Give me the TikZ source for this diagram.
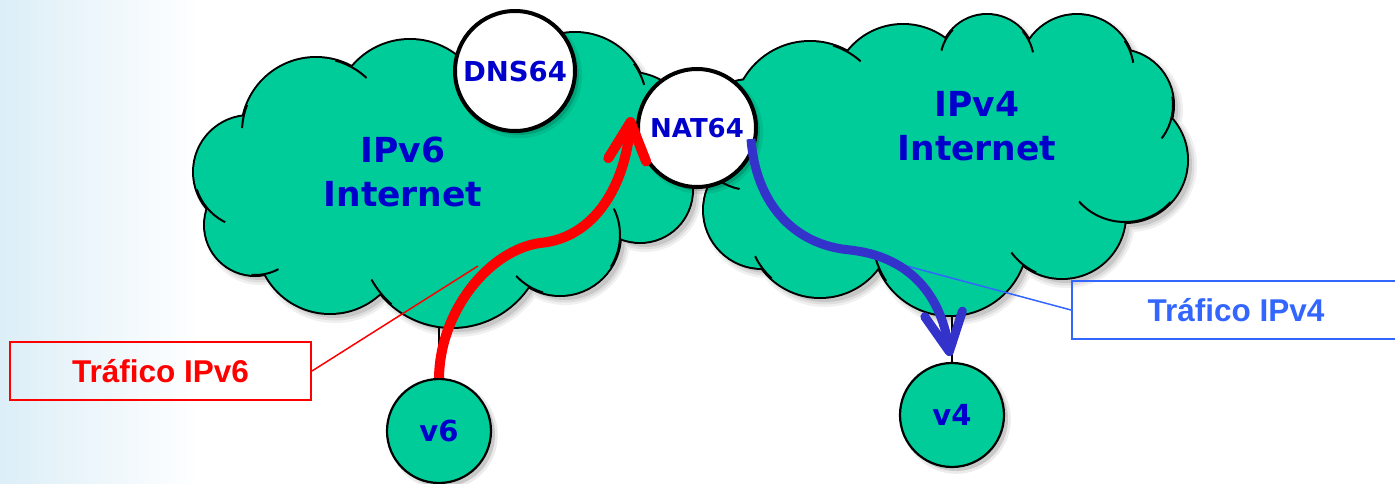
\documentclass[tikz,border=0pt]{standalone}
\usepackage{fontspec}
\setmainfont{DejaVu Sans}
\newfontfamily\calloutfont{Liberation Sans}
\usetikzlibrary{arrows.meta,shadows,calc}

\definecolor{cloudgreen}{RGB}{0,204,153}
\definecolor{labelblue}{RGB}{0,0,204}
\definecolor{flowblue}{RGB}{51,51,204}
\definecolor{calloutblue}{RGB}{51,102,255}
\definecolor{skyedge}{RGB}{220,238,247}

\pgfdeclarelayer{back}
\pgfdeclarelayer{links}
\pgfdeclarelayer{clouds}
\pgfsetlayers{back,links,clouds,main}

% bumps of each cloud: centre x / centre y / radius
\def\leftbumps{250/172/56, 316/132/74, 410/115/75, 575/105/72, 630/135/62, 640/190/52, 560/235/60, 452/235/92, 330/240/73, 255/225/50}
\def\rightbumps{750/135/55, 810/118/76, 903/95/70, 987/62/47, 1077/72/57, 1118/105/55, 1125/160/62, 1062/215/63, 950/238/77, 820/225/72, 762/210/58}

% soft shadow under a cloud, offset down and to the right
\newcommand\cloudshadow[1]{%
  \begin{scope}[shift={(5,5)}]
    \foreach \cx/\cy/\r in #1 {\fill[black!6] (\cx,\cy) circle[radius=\r+5];}
    \foreach \cx/\cy/\r in #1 {\fill[black!13] (\cx,\cy) circle[radius=\r+2.5];}
    \foreach \cx/\cy/\r in #1 {\fill[black!22] (\cx,\cy) circle[radius=\r];}
  \end{scope}}
% cloud body: outlined union of the bumps plus a filled core
\newcommand\cloudbody[5]{%
  \foreach \cx/\cy/\r in #1 {\draw[cloudline] (\cx,\cy) circle[radius=\r];}
  \foreach \cx/\cy/\r in #1 {\fill[cloudgreen] (\cx,\cy) circle[radius=\r];}
  \fill[cloudgreen] (#2,#3) ellipse[x radius=#4, y radius=#5];}
% short inner arc where bump (#1,#2;#3) runs into bump (#4,#5;#6);
% #7 = 90 or -90 picks the outer crossing, #8 = length of the arc
% (squares are taken in tenths to stay inside TeX's number range)
\newcommand\creasearc[8]{%
  \path let \n1={veclen(#4-#1,#5-#2)},
            \n2={((#3/10)*(#3/10)-(#6/10)*(#6/10)+(\n1/10)*(\n1/10))*50/\n1},
            \n3={10*sqrt(abs((#3/10)*(#3/10)-(\n2/10)*(\n2/10)))} in
        coordinate (creasept) at ($(#1,#2)!\n2 pt!(#4,#5)!\n3 pt!#7:(#4,#5)$);
  \begin{scope}
    \clip (creasept) circle[radius=#8];
    \draw[crease] (#1,#2) circle[radius=#3];
  \end{scope}}

\tikzset{
  cloudline/.style={draw=black, line width=4pt},
  crease/.style={draw=black, line width=2pt},
  softshadow/.style={
    general shadow={fill=black, opacity=.08, shadow xshift=4pt, shadow yshift=-4pt, shadow scale=1.05},
    general shadow={fill=black, opacity=.14, shadow xshift=4pt, shadow yshift=-4pt}},
  hub/.style={circle, draw=black, line width=4pt, fill=white, inner sep=0pt,
    text=labelblue, font=\fontsize{27.5}{30}\selectfont\bfseries, softshadow},
  host/.style={circle, draw=black, line width=2.2pt, fill=cloudgreen, inner sep=0pt,
    minimum size=104pt, text=labelblue, font=\fontsize{29}{32}\selectfont\bfseries, softshadow},
  netlabel/.style={align=center, text=labelblue, font=\fontsize{34.5}{44}\selectfont\bfseries},
  callout/.style={draw=#1, line width=2pt, text=#1, minimum height=58pt, inner sep=0pt,
    font=\calloutfont\fontsize{31.5}{36}\selectfont\bfseries},
  pointer/.style={line width=1.5pt},
  flow/.style={line width=#1, -{Straight Barb[length=38pt, width=38pt, line cap=round, line join=round]}},
}

\begin{document}
\begin{tikzpicture}[x=1pt, y=-1pt]
\useasboundingbox (0,0) rectangle (1395,484);

\begin{pgfonlayer}{back}
  \fill[white] (0,0) rectangle (1395,484);
  \shade[left color=skyedge, right color=white] (0,0) rectangle (200,484);
  \cloudshadow{\leftbumps}
  \cloudshadow{\rightbumps}
\end{pgfonlayer}

\begin{pgfonlayer}{clouds}
  % IPv6 cloud
  \cloudbody{\leftbumps}{440}{180}{190}{100}
  \creasearc{250}{172}{56}{255}{225}{50}{-90}{22}
  \creasearc{316}{132}{74}{250}{172}{56}{-90}{12}
  \creasearc{316}{132}{74}{410}{115}{75}{90}{18}
  \creasearc{575}{105}{72}{630}{135}{62}{90}{12}
  \creasearc{560}{235}{60}{640}{190}{52}{-90}{30}
  \creasearc{560}{235}{60}{452}{235}{92}{90}{16}
  \creasearc{452}{235}{92}{330}{240}{73}{90}{16}
  \creasearc{255}{225}{50}{330}{240}{73}{-90}{14}
  % IPv4 cloud
  \cloudbody{\rightbumps}{950}{160}{180}{100}
  \creasearc{810}{118}{76}{903}{95}{70}{90}{16}
  \creasearc{987}{62}{47}{903}{95}{70}{-90}{12}
  \creasearc{987}{62}{47}{1077}{72}{57}{90}{12}
  \creasearc{1077}{72}{57}{1118}{105}{55}{90}{12}
  \creasearc{1118}{105}{55}{1125}{160}{62}{90}{22}
  \creasearc{1125}{160}{62}{1062}{215}{63}{90}{50}
  \creasearc{1062}{215}{63}{950}{238}{77}{90}{16}
  \creasearc{950}{238}{77}{820}{225}{72}{90}{16}
  \creasearc{820}{225}{72}{762}{210}{58}{90}{14}
  \creasearc{750}{135}{55}{762}{210}{58}{-90}{28}
\end{pgfonlayer}

% network names
\node[netlabel] (net6) at (403,171.6) {IPv6\\Internet};
\node[netlabel] (net4) at (977,126.6) {IPv4\\Internet};

% hosts
\node[host] (v6) at (439,431) {\raisebox{-4pt}{v6}};
\node[host] (v4) at (952,415) {\raisebox{-6pt}{v4}};

% links from the clouds to the hosts
\begin{pgfonlayer}{links}
  \coordinate (v6link) at (439,310);
  \coordinate (v4link) at (952,300);
  \draw[line width=1.5pt] (v6link) -- (v6.north);
  \draw[line width=1.5pt] (v4link) -- (v4.north);
\end{pgfonlayer}

% translators
\node[hub, minimum size=120pt] (dns) at (515,71) {DNS64};
\node[hub, minimum size=118pt, font=\fontsize{26}{30}\selectfont\bfseries] (nat) at (697,128) {NAT64};

% callouts
\node[callout=red, minimum width=301pt] (c6) at (160.5,371) {Tráfico IPv6};
\node[callout=calloutblue, minimum width=328pt] (c4) at (1236,310) {Tráfico IPv4};
\coordinate (redmark) at (478,266);
\coordinate (bluemark) at (903,265);
\draw[pointer, red] (c6.east) -- (redmark);
\draw[pointer, calloutblue] (c4.west) -- (bluemark);

% traffic flows
\coordinate (redtip) at (631,117);
\coordinate (bluestart) at (751,139);
\coordinate (bluetip) at (950,356);
\draw[flow=10pt, red] (v6.north) .. controls (440,310) and (490,250) .. (540,243)
  .. controls (595,238) and (625,185) .. (redtip);
\draw[flow=9pt, flowblue] (bluestart) .. controls (756,205) and (795,245) .. (850,250)
  .. controls (905,256) and (940,290) .. (bluetip);
\end{tikzpicture}
\end{document}
